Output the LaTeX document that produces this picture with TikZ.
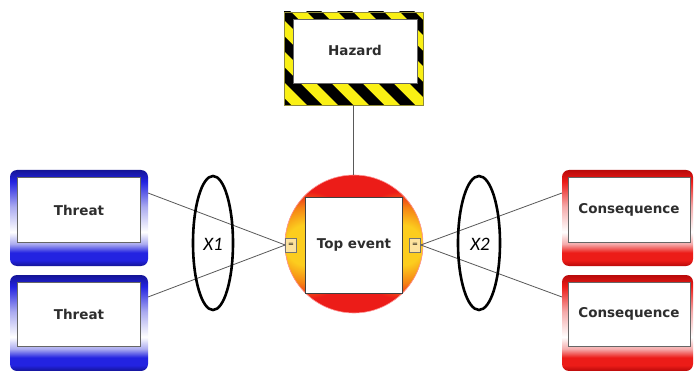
\documentclass[tikz,border=0pt]{standalone}
\usepackage{fontspec}
\setmainfont{DejaVu Sans}
\newfontfamily\xfont{Carlito}
\definecolor{tbD}{RGB}{20,20,150}
\definecolor{tblue}{RGB}{35,35,225}
\definecolor{tbL}{RGB}{170,170,240}
\definecolor{crD}{RGB}{185,10,10}
\definecolor{cred}{RGB}{236,28,24}
\definecolor{crL}{RGB}{245,170,170}
\definecolor{hyel}{RGB}{250,240,20}
\definecolor{txtc}{RGB}{45,45,45}
\definecolor{orng}{RGB}{250,190,40}
\definecolor{yor}{RGB}{252,205,30}
\definecolor{ormid}{RGB}{245,130,20}
\pgfdeclareverticalshading{blueshade}{100bp}{color(0bp)=(tbD); color(25bp)=(tbD); color(28bp)=(tblue); color(32bp)=(tblue); color(36.5bp)=(tbL); color(42.7bp)=(white); color(56bp)=(tbL); color(69bp)=(tblue); color(75bp)=(tbD); color(100bp)=(tbD)}
\pgfdeclareverticalshading{redshade}{100bp}{color(0bp)=(crD); color(25bp)=(crD); color(28bp)=(cred); color(32bp)=(cred); color(36.5bp)=(crL); color(42.7bp)=(white); color(56bp)=(crL); color(69bp)=(cred); color(75bp)=(crD); color(100bp)=(crD)}
\pgfdeclareradialshading{sideshade}{\pgfpoint{0bp}{0bp}}{color(0bp)=(yor); color(9bp)=(yor); color(17bp)=(ormid); color(24bp)=(cred); color(25bp)=(cred); color(50bp)=(cred)}
\tikzset{
  boxtext/.style={font=\bfseries\fontsize{13.5}{15}\selectfont, text=txtc, inner sep=0pt},
  inbox/.style={draw=black!60, line width=0.6pt, fill=white},
  conn/.style={draw=black!65, line width=0.8pt},
  smallbox/.style={draw=black!55, line width=0.6pt, fill=orng!45, minimum width=11pt, minimum height=14pt, inner sep=0pt, font=\fontsize{7}{7}\selectfont},
  oval/.style={draw=black, line width=2.6pt},
  xlabel/.style={font=\xfont\itshape\fontsize{19}{21}\selectfont, text=black}
}
\newcommand\mybox[5]{% x0 y0 x1 y1 shading
  \shade[shading=#5, rounded corners=7pt] (#1,#2) rectangle (#3,#4);
}
\begin{document}
\begin{tikzpicture}[x=1pt,y=-1pt]
\useasboundingbox (0,0) rectangle (695,371);
\fill[white] (0,0) rectangle (695,371);

% Hazard box
\begin{scope}
  \clip (284,12) rectangle (423,105);
  \fill[hyel] (284,12) rectangle (423,105);
  \foreach \i in {-6,...,6} {
    \fill[black] (284+\i*31-20,0) -- (284+\i*31-5,0) -- (284+\i*31+105,110) -- (284+\i*31+90,110) -- cycle;
  }
\end{scope}
\draw[olive!60!gray, line width=0.6pt] (284,12) rectangle (423,105);
\draw[inbox] (293,19) rectangle (417,83);
\node[boxtext, minimum width=139pt, minimum height=93pt] (hz) at (353.5,58.5) {};
\node[boxtext] (hzt) at (355,50) {Hazard};

% Top event circle
\fill[cred] (354,244) circle (69);
\begin{scope}
  \clip (354,244) circle (69);
  \shade[shading=sideshade] (306,245) circle (56);
  \shade[shading=sideshade] (402,245) circle (56);
\end{scope}
\draw[red!40!white, line width=0.6pt] (354,244) circle (69);
\node[inbox, draw=black!75, minimum width=97pt, minimum height=96pt, inner sep=0pt] (te) at (353.5,245) {};
\node[boxtext] (tet) at (354,245) {Top event};
\draw[conn] (hz.south) -- (te.north |- 0,175);

% Threat boxes
\mybox{10}{170}{148}{266}{blueshade}
\draw[inbox] (17,177) rectangle (140,242);
\node[boxtext] (t1) at (79,210) {Threat};
\mybox{10}{275}{148}{371}{blueshade}
\draw[inbox] (17,282) rectangle (140,346);
\node[boxtext] (t2) at (79,314) {Threat};

% Consequence boxes
\mybox{562}{170}{693}{266}{redshade}
\draw[inbox] (568,177) rectangle (690,242);
\node[boxtext] (c1) at (629,210) {Consequence};
\mybox{562}{275}{693}{371}{redshade}
\draw[inbox] (568,282) rectangle (690,346);
\node[boxtext] (c2) at (629,314) {Consequence};

% connection points
\coordinate (t1p) at (148,193);
\coordinate (t2p) at (148,297);
\coordinate (c1p) at (562,193);
\coordinate (c2p) at (562,297);

% small boxes
\node[smallbox] (lb) at (291,245) {=};
\node[smallbox] (rb) at (415,245) {=};

\draw[conn] (t1p) -- (lb.west);
\draw[conn] (t2p) -- (lb.west);
\draw[conn] (rb.east) -- (c1p);
\draw[conn] (rb.east) -- (c2p);

% ellipses
\draw[oval] (213,243) ellipse (20 and 67);
\node[xlabel] (x1) at (213,244) {X1};
\draw[oval] (479,243) ellipse (21 and 67);
\node[xlabel] (x2) at (480,244) {X2};
\end{tikzpicture}
\end{document}
